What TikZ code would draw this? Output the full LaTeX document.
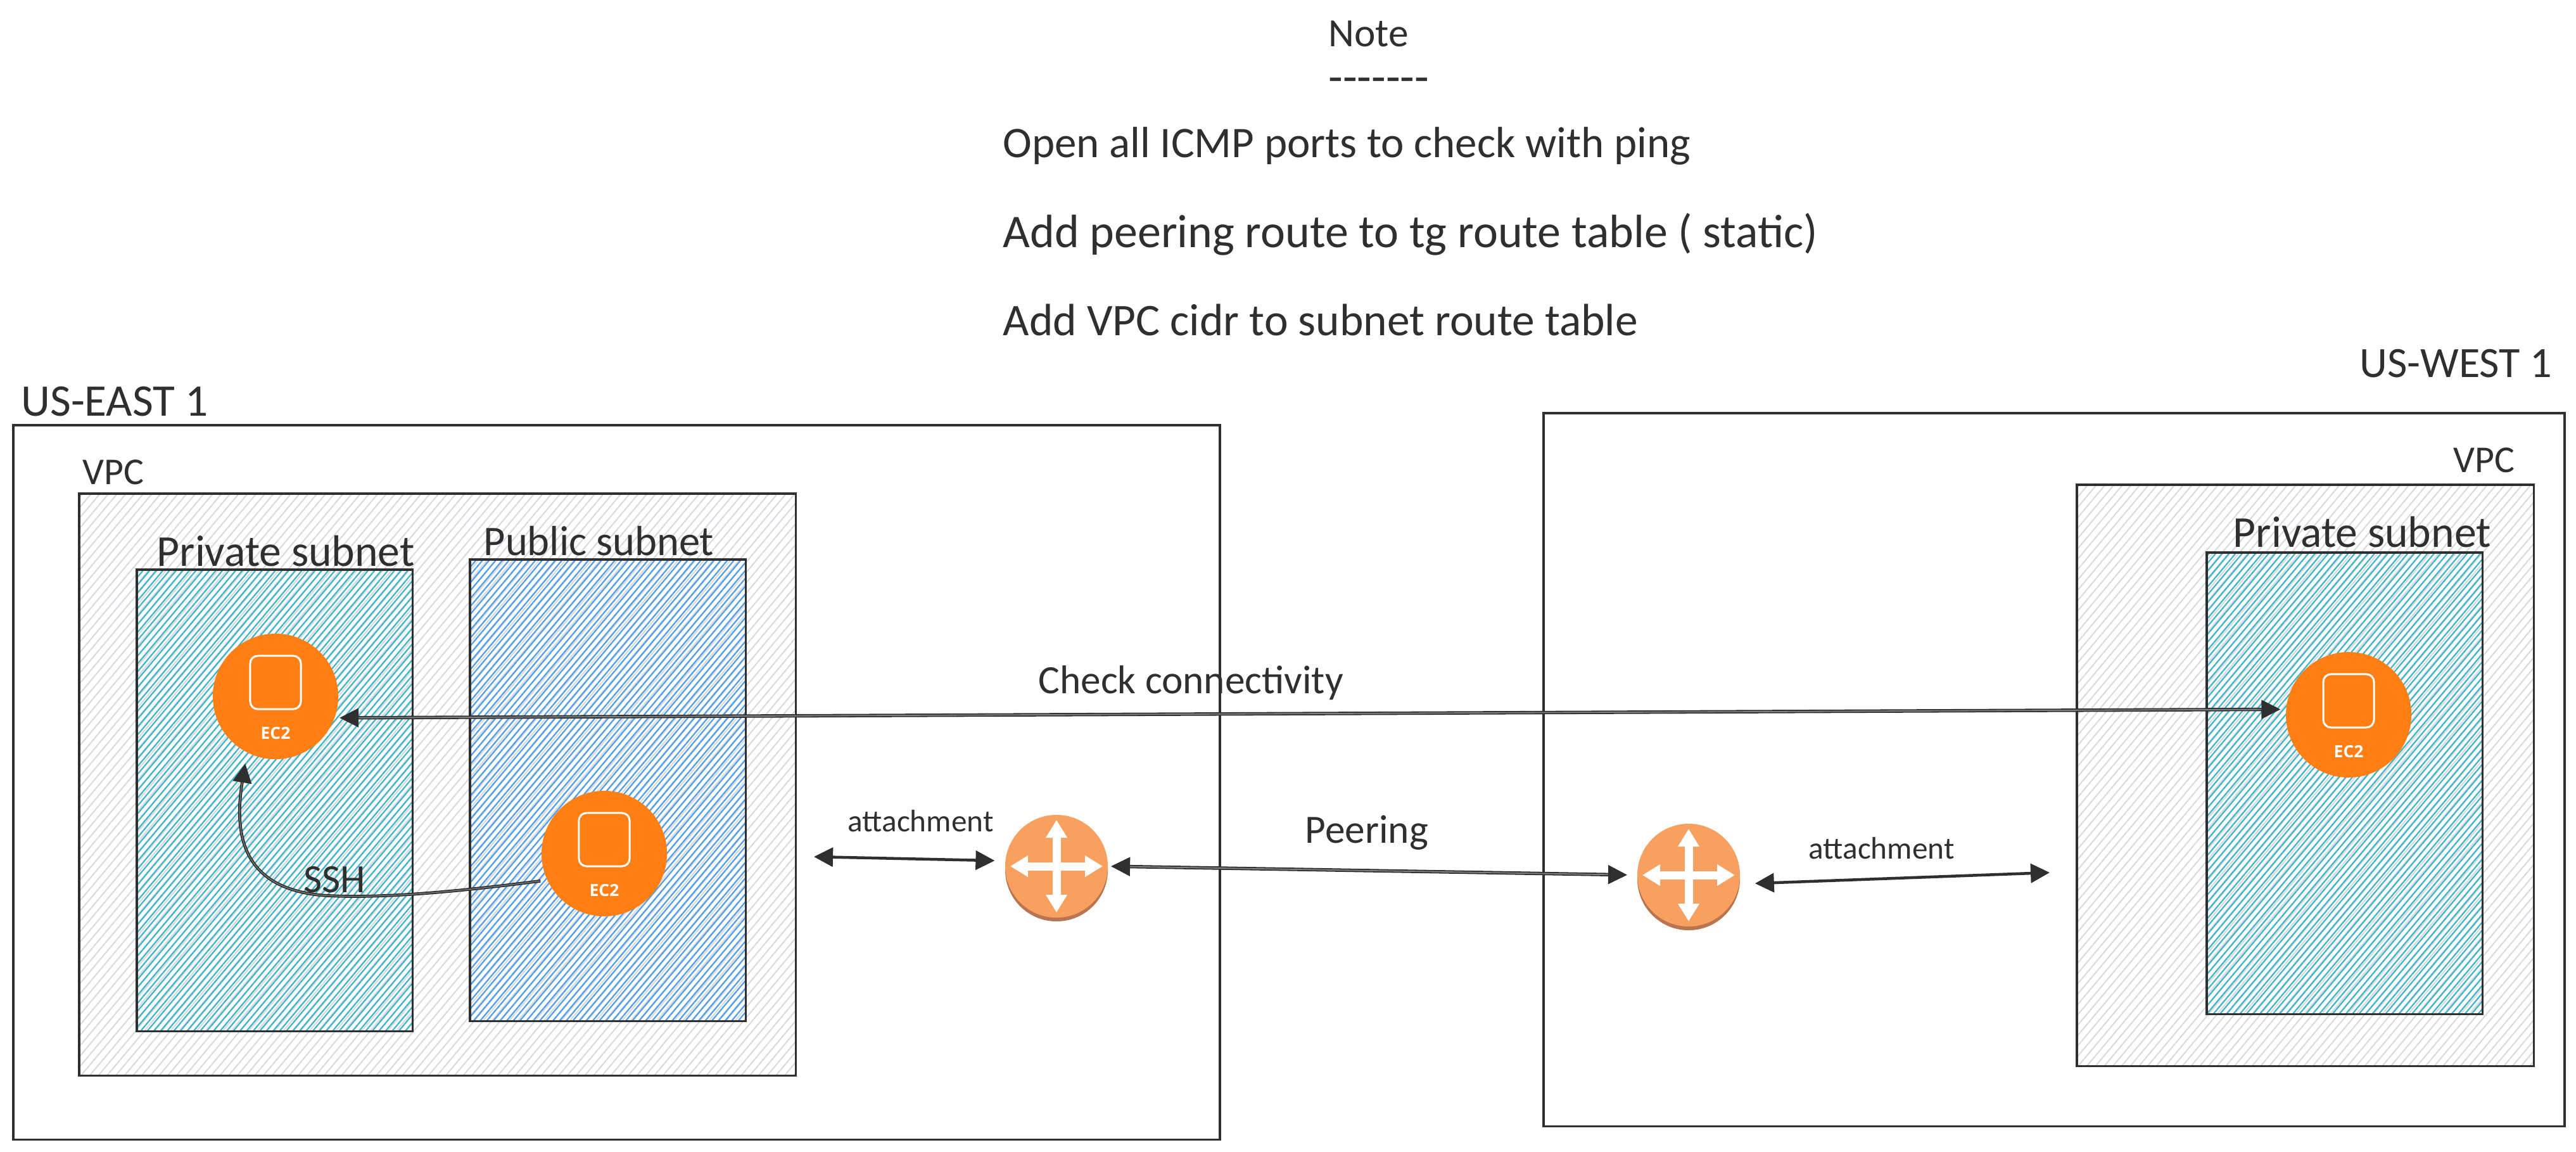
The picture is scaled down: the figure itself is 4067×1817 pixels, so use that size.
\documentclass[tikz,border=0pt]{standalone}
\usepackage{fontspec}
\setmainfont{Carlito}
\newfontfamily\iconfont{Open Sans}
\usetikzlibrary{arrows.meta,patterns.meta}
\definecolor{inkgray}{HTML}{2F2F2F}
\definecolor{vpchatch}{HTML}{D6DADF}
\definecolor{privhatch}{HTML}{3DB4C6}
\definecolor{pubhatch}{HTML}{4F9DE6}
\definecolor{ectwoorange}{HTML}{FF7F14}
\definecolor{routerorange}{HTML}{F8A060}
\definecolor{routershade}{HTML}{B8754F}
\tikzset{
  boxbase/.style={draw=inkgray,line width=.035cm,rectangle,anchor=north west,inner sep=0pt,outer sep=0pt},
  regionbox/.style={boxbase},
  vpcbox/.style={boxbase,pattern={Lines[angle=50,distance=.105cm,line width=.02cm]},pattern color=vpchatch},
  privbox/.style={boxbase,pattern={Lines[angle=50,distance=.08cm,line width=.022cm]},pattern color=privhatch},
  pubbox/.style={boxbase,pattern={Lines[angle=50,distance=.08cm,line width=.022cm]},pattern color=pubhatch},
  ectwodisc/.style={circle,fill=ectwoorange,minimum size=1.98cm,inner sep=0pt,outer sep=0pt},
  ectwosquare/.style={draw=white,line width=.03cm,rectangle,rounded corners=.12cm,minimum width=.8cm,minimum height=.84cm,inner sep=0pt},
  ectwotext/.style={text=white,inner sep=0pt,font=\iconfont\bfseries\fontsize{7.5}{9}\selectfont},
  routerdisc/.style={circle,fill=routerorange,minimum size=1.62cm,inner sep=0pt,outer sep=0pt},
  routershadow/.style={circle,fill=routershade,minimum size=1.62cm,inner sep=0pt,outer sep=0pt},
  routercross/.style={draw=white,line width=.13cm,{Triangle[length=.28cm,width=.32cm]}-{Triangle[length=.28cm,width=.32cm]},shorten <=.08cm,shorten >=.08cm},
  bigtext/.style={anchor=base west,inner sep=0pt,text=inkgray,font=\fontsize{#1}{22}\selectfont},
  bigtext/.default=18,
  smalltext/.style={anchor=base west,inner sep=0pt,text=inkgray,font=\fontsize{14}{18}\selectfont},
  link/.style={draw=inkgray,line width=.045cm,{Triangle[length=.3cm,width=.3cm]}-{Triangle[length=.3cm,width=.3cm]}},
  twinlink/.style={draw=inkgray,line width=.018cm,double=inkgray!60,double distance=.018cm,{Triangle[length=.3cm,width=.3cm]}-{Triangle[length=.3cm,width=.3cm]}},
  sshlink/.style={draw=inkgray,line width=.018cm,double=inkgray!60,double distance=.012cm,-{Triangle[length=.3cm,width=.3cm]}}
}
\begin{document}
\begin{tikzpicture}[x=.01cm,y=-.01cm]
  \useasboundingbox (0,0) rectangle (4067,1817);

  \node[bigtext] (notehead) at (2097,73) {Note};
  \node[bigtext=21] (noterule) at (2097,146) {-{}-{}-{}-{}-{}-{}-};
  \node[bigtext=19.6] (noteicmp) at (1583,248) {Open all ICMP ports to check with ping};
  \node[bigtext=21] (notepeer) at (1583,390) {Add peering route to tg route table ( static)};
  \node[bigtext=20.3] (notecidr) at (1583,529) {Add VPC cidr to subnet route table};

  \node[regionbox,minimum width=19.04cm,minimum height=11.27cm] (east) at (21,671) {};
  \node[regionbox,minimum width=16.11cm,minimum height=11.25cm] (west) at (2437,652) {};
  \node[vpcbox,minimum width=11.31cm,minimum height=9.18cm] (vpce) at (125,779) {};
  \node[vpcbox,minimum width=7.21cm,minimum height=9.17cm] (vpcw) at (3279,765) {};
  \node[privbox,minimum width=4.35cm,minimum height=7.28cm] (prive) at (216,899) {};
  \node[pubbox,minimum width=4.35cm,minimum height=7.28cm] (pube) at (742,883) {};
  \node[privbox,minimum width=4.35cm,minimum height=7.28cm] (privw) at (3484,872) {};

  \node[bigtext=20.3] (eastlabel) at (33,656) {US-EAST 1};
  \node[bigtext=19.4] (westlabel) at (3725,595) {US-WEST 1};
  \node[bigtext=17] (vpcelabel) at (130,764) {VPC};
  \node[bigtext=17] (vpcwlabel) at (3873,745) {VPC};
  \node[bigtext=19.8] (privelabel) at (247,893) {Private subnet};
  \node[bigtext=18.9] (pubelabel) at (763,876) {Public subnet};
  \node[bigtext=19.8] (privwlabel) at (3525,863) {Private subnet};

  \node[ectwodisc] (ec2a) at (435,1099) {};
  \node[ectwosquare] (ec2asq) at ([yshift=.22cm]ec2a.center) {};
  \node[ectwotext] (ec2atxt) at ([yshift=-.58cm]ec2a.center) {EC2};
  \node[ectwodisc] (ec2b) at (954,1347) {};
  \node[ectwosquare] (ec2bsq) at ([yshift=.22cm]ec2b.center) {};
  \node[ectwotext] (ec2btxt) at ([yshift=-.58cm]ec2b.center) {EC2};
  \node[ectwodisc] (ec2c) at (3708,1128) {};
  \node[ectwosquare] (ec2csq) at ([yshift=.22cm]ec2c.center) {};
  \node[ectwotext] (ec2ctxt) at ([yshift=-.58cm]ec2c.center) {EC2};

  \node[routershadow] (rtashadow) at (1668,1373) {};
  \node[routerdisc] (rta) at (1668,1367) {};
  \draw[routercross] (rta.north) -- (rta.south);
  \draw[routercross] (rta.west) -- (rta.east);
  \node[routershadow] (rtbshadow) at (2666,1387) {};
  \node[routerdisc] (rtb) at (2666,1381) {};
  \draw[routercross] (rtb.north) -- (rtb.south);
  \draw[routercross] (rtb.west) -- (rtb.east);

  \coordinate (attache) at (1285,1352);
  \coordinate (attachw) at (3236,1377);

  \draw[twinlink,shorten <=.08cm,shorten >=.09cm] (ec2a.-20) to (ec2c.175);
  \draw[sshlink,shorten <=.11cm,shorten >=.18cm] (ec2b.205) .. controls (700,1410) and (590,1418) .. (510,1413)
  .. controls (420,1405) and (362,1360) .. (ec2a.243);
  \draw[link,shorten >=.17cm] (attache) to (rta.174);
  \draw[twinlink,shorten <=.05cm,shorten >=.16cm] (rta.east) to (rtb.west);
  \draw[link,shorten <=.25cm] (rtb.-10) to (attachw);

  \node[bigtext] (checklabel) at (1639,1094) {Check connectivity};
  \node[bigtext] (sshlabel) at (479,1408) {SSH};
  \node[bigtext] (peerlabel) at (2060,1330) {Peering};
  \node[smalltext] (attachelabel) at (1338,1312) {attachment};
  \node[smalltext] (attachwlabel) at (2855,1355) {attachment};
\end{tikzpicture}
\end{document}
